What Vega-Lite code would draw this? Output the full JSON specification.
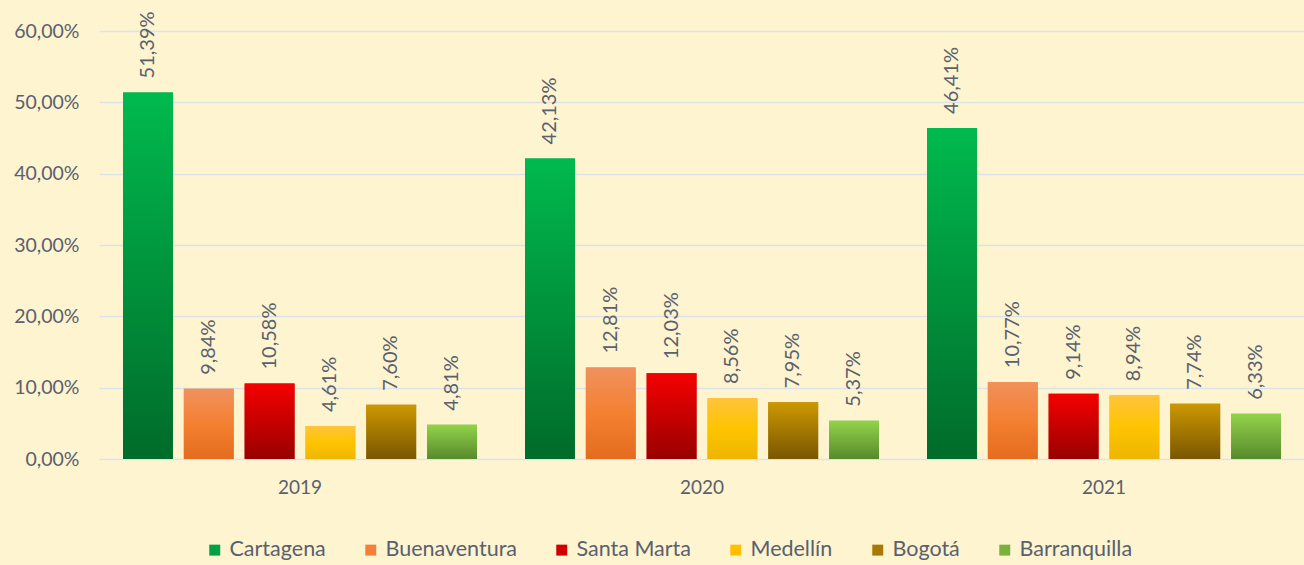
{
  "$schema": "https://vega.github.io/schema/vega-lite/v6.json",
  "autosize": "none",
  "width": 1206,
  "height": 428,
  "padding": {"left": 99, "top": 31, "right": 0, "bottom": 106},
  "background": "#FEF4D0",
  "config": {
    "view": {"stroke": null},
    "font": "Lato",
    "locale": {"number": {"decimal": ",", "thousands": ".", "grouping": [3], "currency": ["", " €"]}}
  },
  "data": {"values": [
    {"year": "2019", "city": "Cartagena", "value": 0.5139},
    {"year": "2019", "city": "Buenaventura", "value": 0.0984},
    {"year": "2019", "city": "Santa Marta", "value": 0.1058},
    {"year": "2019", "city": "Medellín", "value": 0.0461},
    {"year": "2019", "city": "Bogotá", "value": 0.0760},
    {"year": "2019", "city": "Barranquilla", "value": 0.0481},
    {"year": "2020", "city": "Cartagena", "value": 0.4213},
    {"year": "2020", "city": "Buenaventura", "value": 0.1281},
    {"year": "2020", "city": "Santa Marta", "value": 0.1203},
    {"year": "2020", "city": "Medellín", "value": 0.0856},
    {"year": "2020", "city": "Bogotá", "value": 0.0795},
    {"year": "2020", "city": "Barranquilla", "value": 0.0537},
    {"year": "2021", "city": "Cartagena", "value": 0.4641},
    {"year": "2021", "city": "Buenaventura", "value": 0.1077},
    {"year": "2021", "city": "Santa Marta", "value": 0.0914},
    {"year": "2021", "city": "Medellín", "value": 0.0894},
    {"year": "2021", "city": "Bogotá", "value": 0.0774},
    {"year": "2021", "city": "Barranquilla", "value": 0.0633}
  ]},
  "encoding": {
    "x": {"field": "year", "type": "nominal", "title": null,
      "scale": {"paddingInner": 0, "paddingOuter": 0},
      "axis": {"labelAngle": 0, "labelFontSize": 19, "labelColor": "#59606E", "labelPadding": 19, "ticks": false, "domain": false, "grid": false}},
    "xOffset": {"field": "city", "type": "nominal",
      "sort": ["Cartagena", "Buenaventura", "Santa Marta", "Medellín", "Bogotá", "Barranquilla"],
      "scale": {"paddingInner": 0.18, "paddingOuter": 0.395}},
    "y": {"field": "value", "type": "quantitative", "title": null,
      "scale": {"domain": [0, 0.6], "nice": false},
      "axis": {"format": ".2%", "values": [0, 0.1, 0.2, 0.3, 0.4, 0.5, 0.6], "labelFontSize": 19.5, "labelColor": "#59606E", "labelPadding": 20, "ticks": false, "domain": false, "gridColor": "#DCE2EA", "gridWidth": 1.5}}
  },
  "layer": [
    {
      "mark": {"type": "bar"},
      "encoding": {
        "color": {"field": "city", "type": "nominal", "title": null,
          "scale": {"domain": ["Cartagena", "Buenaventura", "Santa Marta", "Medellín", "Bogotá", "Barranquilla"],
                    "range": ["#00A045", "#F47F36", "#D00000", "#FFC000", "#A87800", "#7AB03C"]},
          "legend": {"orient": "none", "legendX": 105, "legendY": 508, "direction": "horizontal", "columns": 6,
            "symbolType": "square", "symbolSize": 120, "symbolStrokeWidth": 0, "labelFontSize": 21.5, "labelColor": "#59606E",
            "labelOffset": 4, "columnPadding": 34}}
      }
    },
    {
      "mark": {"type": "bar"},
      "encoding": {
        "fill": {
          "condition": [
            {"test": "datum.city === 'Cartagena'", "value": {"gradient": "linear", "x1": 0, "y1": 0, "x2": 0, "y2": 1, "stops": [{"offset": 0, "color": "#00BA4E"}, {"offset": 1, "color": "#006B2A"}]}},
            {"test": "datum.city === 'Buenaventura'", "value": {"gradient": "linear", "x1": 0, "y1": 0, "x2": 0, "y2": 1, "stops": [{"offset": 0, "color": "#F0915C"}, {"offset": 0.5, "color": "#F48032"}, {"offset": 1, "color": "#E46C1E"}]}},
            {"test": "datum.city === 'Santa Marta'", "value": {"gradient": "linear", "x1": 0, "y1": 0, "x2": 0, "y2": 1, "stops": [{"offset": 0, "color": "#F50000"}, {"offset": 1, "color": "#990000"}]}},
            {"test": "datum.city === 'Medellín'", "value": {"gradient": "linear", "x1": 0, "y1": 0, "x2": 0, "y2": 1, "stops": [{"offset": 0, "color": "#FFC43C"}, {"offset": 0.5, "color": "#FFC400"}, {"offset": 1, "color": "#EDB500"}]}},
            {"test": "datum.city === 'Bogotá'", "value": {"gradient": "linear", "x1": 0, "y1": 0, "x2": 0, "y2": 1, "stops": [{"offset": 0, "color": "#CC9800"}, {"offset": 1, "color": "#7A5600"}]}},
            {"test": "datum.city === 'Barranquilla'", "value": {"gradient": "linear", "x1": 0, "y1": 0, "x2": 0, "y2": 1, "stops": [{"offset": 0, "color": "#92D34A"}, {"offset": 1, "color": "#578A2C"}]}}
          ],
          "value": "#888888"
        }
      }
    },
    {
      "mark": {"type": "text", "angle": 270, "align": "left", "baseline": "middle", "dx": 14, "fontSize": 20, "color": "#59606E"},
      "encoding": {
        "text": {"field": "value", "type": "quantitative", "format": ".2%"}
      }
    }
  ]
}
